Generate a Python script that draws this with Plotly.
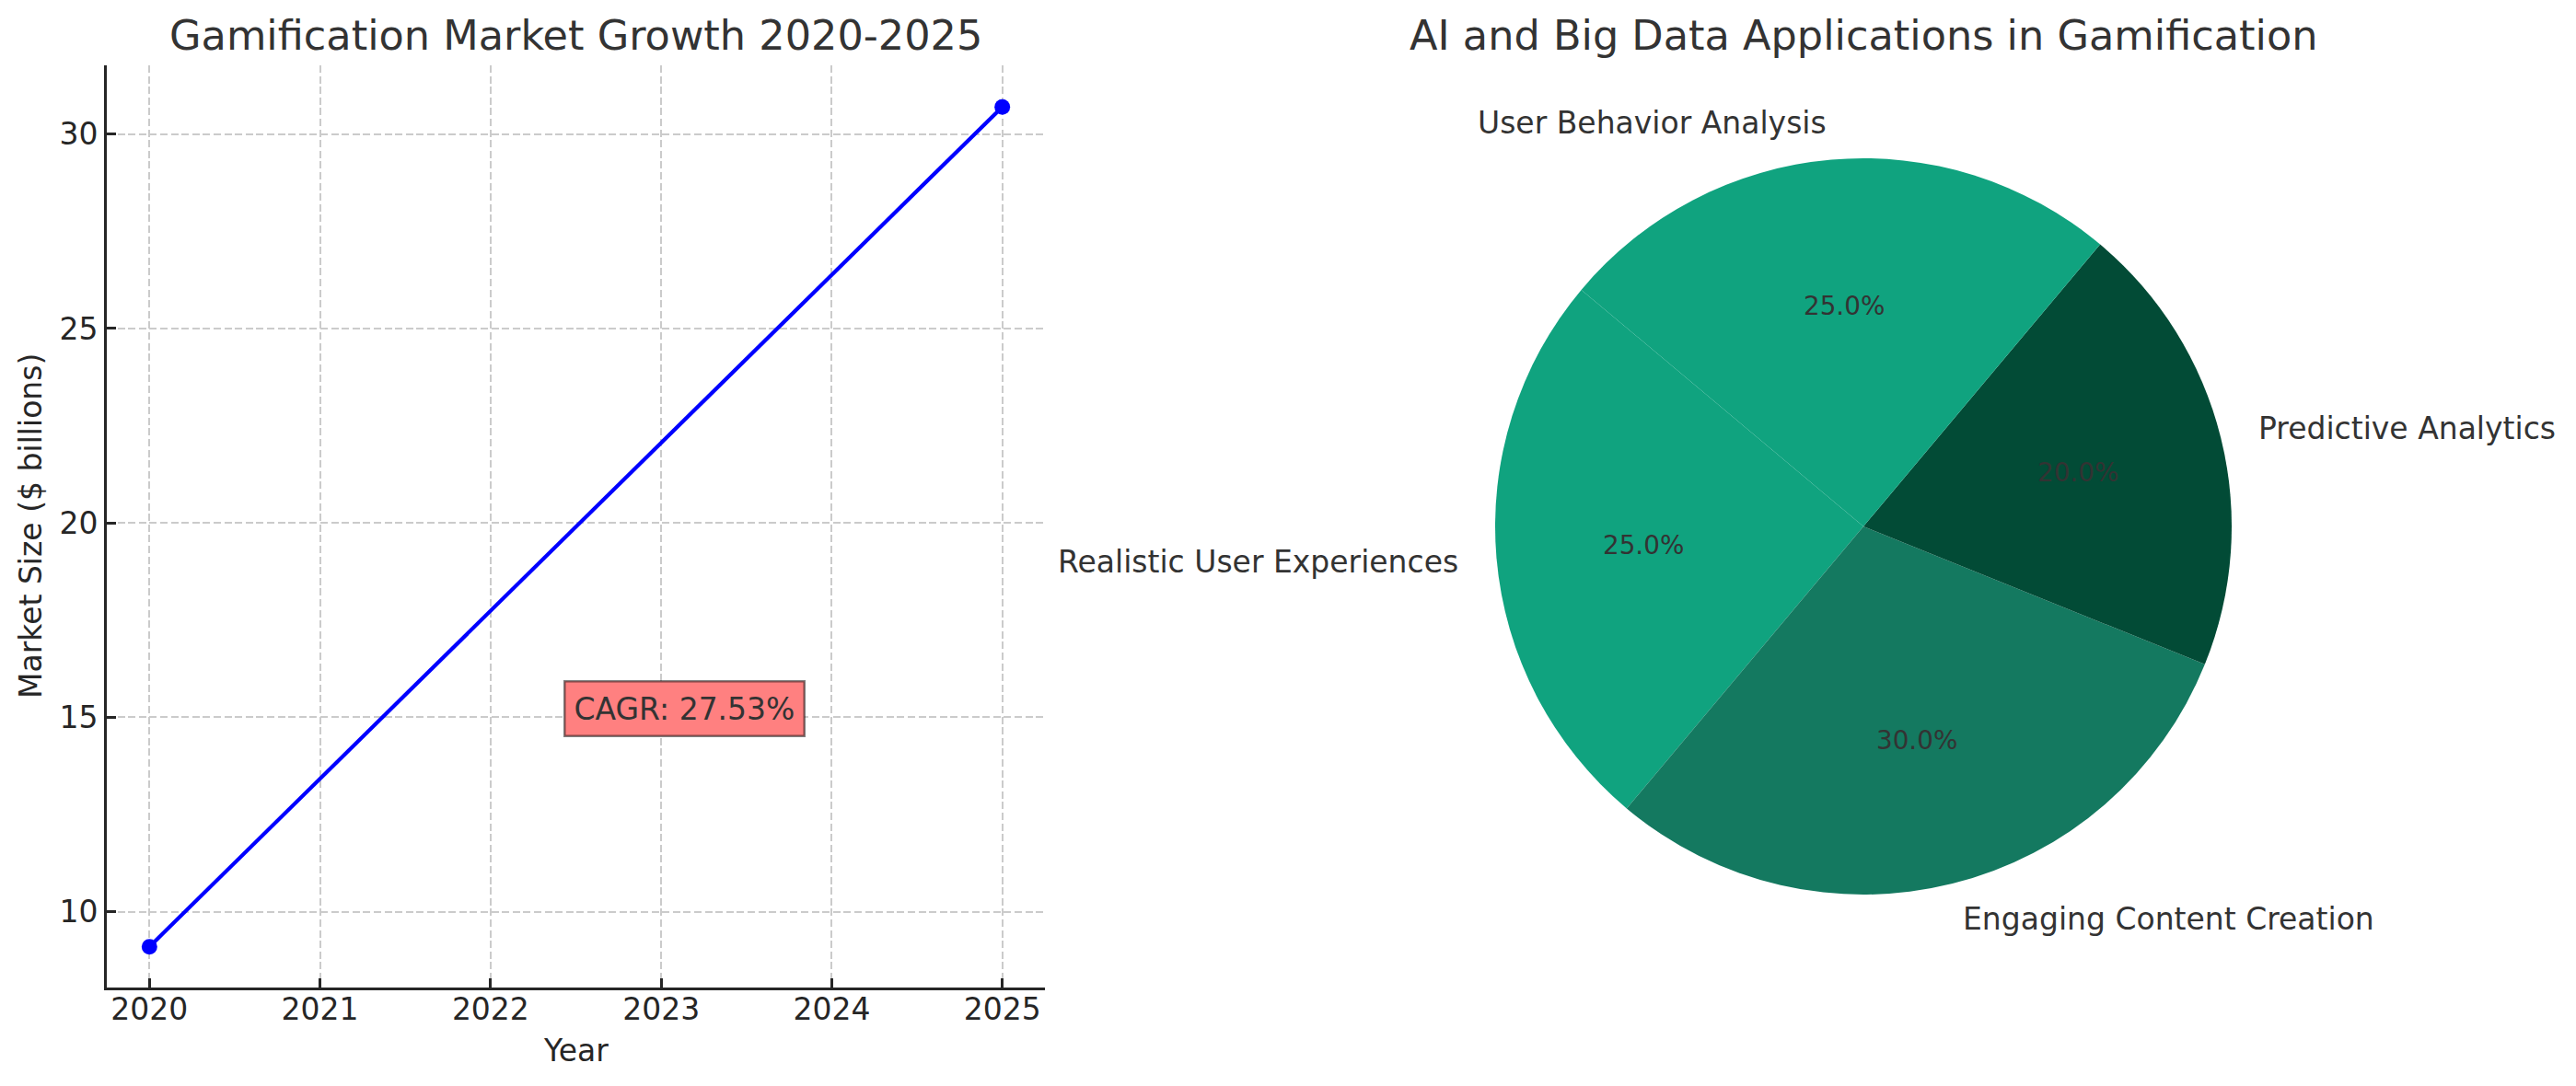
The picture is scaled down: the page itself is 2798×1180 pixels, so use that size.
import numpy as np
import plotly.graph_objects as go

# market growth data
years = [2020, 2025]
year_ticks = [2020, 2021, 2022, 2023, 2024, 2025]
market_size = [9.1, 30.7]
size_ticks = [10, 15, 20, 25, 30]
cagr_text = 'CAGR: 27.53%'

# pie data (matplotlib order, counterclockwise from start_angle)
pie_labels = ['Realistic User Experiences', 'Engaging Content Creation',
              'Predictive Analytics', 'User Behavior Analysis']
pie_values = [25, 30, 20, 25]
pie_colors = ['#10a37f', '#147960', '#024b36', '#10a37f']

W, H = 2798, 1180
OFF = 8  # page body margin
FW, FH = W - 2 * OFF, H - 2 * OFF
FONT = 'DejaVu Sans'
DARK = '#262626'
TXT = '#333333'


def xp(px):
    return (px - OFF) / FW


def yp(py):
    return 1 - (py - OFF) / FH


# pie geometry (screen pixels)
cx, cy, r = 2024, 572, 400
start_angle = 140
total = float(sum(pie_values))

fig = go.Figure()

fig.add_trace(go.Scatter(
    x=years, y=market_size, mode='lines+markers',
    line=dict(color='blue', width=4.2),
    marker=dict(color='blue', size=17),
    showlegend=False, xaxis='x', yaxis='y'
))

# plotly's counterclockwise mode puts the far edge of the first slice at `rotation`
fig.add_trace(go.Pie(
    labels=pie_labels, values=pie_values, sort=False,
    direction='counterclockwise',
    rotation=90 - start_angle - 360 * pie_values[0] / total,
    marker=dict(colors=pie_colors, line=dict(width=0)),
    textinfo='none', hoverinfo='label+percent', showlegend=False,
    domain=dict(x=[xp(cx - r), xp(cx + r)], y=[yp(cy + r), yp(cy - r)])
))

annotations = []

# wedge labels and percentages, placed like matplotlib's pie
cum = 0.0
for lab, v in zip(pie_labels, pie_values):
    mid = np.deg2rad(start_angle + 360 * (cum + v / 2) / total)
    cum += v
    c, s = np.cos(mid), np.sin(mid)
    annotations.append(dict(
        x=xp(cx + 1.1 * r * c), y=yp(cy - 1.1 * r * s),
        xref='paper', yref='paper', text=lab, showarrow=False,
        xanchor='left' if c > 0 else 'right', yanchor='middle',
        font=dict(family=FONT, size=33, color=TXT)
    ))
    annotations.append(dict(
        x=xp(cx + 0.6 * r * c), y=yp(cy - 0.6 * r * s),
        xref='paper', yref='paper', text=f'{100 * v / total:.1f}%', showarrow=False,
        xanchor='center', yanchor='middle',
        font=dict(family=FONT, size=27.8, color=TXT)
    ))

# titles
annotations.append(dict(
    x=xp(625.5), y=yp(39), xref='paper', yref='paper',
    text='Gamification Market Growth 2020-2025', showarrow=False,
    xanchor='center', yanchor='middle', font=dict(family=FONT, size=44.6, color=TXT)
))
annotations.append(dict(
    x=xp(cx), y=yp(39), xref='paper', yref='paper',
    text='AI and Big Data Applications in Gamification', showarrow=False,
    xanchor='center', yanchor='middle', font=dict(family=FONT, size=44.6, color=TXT)
))

# axis titles
annotations.append(dict(
    x=xp(625.5), y=yp(1141), xref='paper', yref='paper', text='Year',
    showarrow=False, xanchor='center', yanchor='middle',
    font=dict(family=FONT, size=33, color=DARK)
))
annotations.append(dict(
    x=xp(33), y=yp(572), xref='paper', yref='paper', text='Market Size ($ billions)',
    showarrow=False, xanchor='center', yanchor='middle', textangle=-90,
    font=dict(family=FONT, size=33, color=DARK)
))

# CAGR box
annotations.append(dict(
    x=2022.5, y=15, xref='x', yref='y', text=cagr_text, showarrow=False,
    xanchor='left', yanchor='middle', xshift=-14, yshift=9,
    bgcolor='#ff8080', bordercolor='rgba(0,0,0,0.5)', borderwidth=2.5, borderpad=9,
    font=dict(family=FONT, size=33, color=TXT)
))

grid = dict(showgrid=True, gridcolor='#cbcbcb', gridwidth=2.2, griddash='8px,3.6px')

fig.update_layout(
    width=FW, height=FH,
    margin=dict(l=0, r=0, t=0, b=0),
    paper_bgcolor='white', plot_bgcolor='white',
    font=dict(family=FONT, color=DARK),
    xaxis=dict(
        domain=[xp(116), xp(1135)], range=[2019.75, 2025.25],
        tickvals=year_ticks,
        ticks='inside', ticklen=10, tickwidth=2.5, tickcolor=DARK,
        showline=True, linewidth=3, linecolor=DARK, zeroline=False,
        tickfont=dict(size=33, color=DARK), ticklabelstandoff=-8,
        anchor='y', **grid
    ),
    yaxis=dict(
        domain=[yp(1073), yp(71)], range=[8.05, 31.77],
        tickvals=size_ticks,
        ticks='inside', ticklen=10, tickwidth=2.5, tickcolor=DARK,
        showline=True, linewidth=3, linecolor=DARK, zeroline=False,
        tickfont=dict(size=33, color=DARK), ticklabelstandoff=0,
        anchor='x', **grid
    ),
    annotations=annotations
)

fig.write_html('out.html')
